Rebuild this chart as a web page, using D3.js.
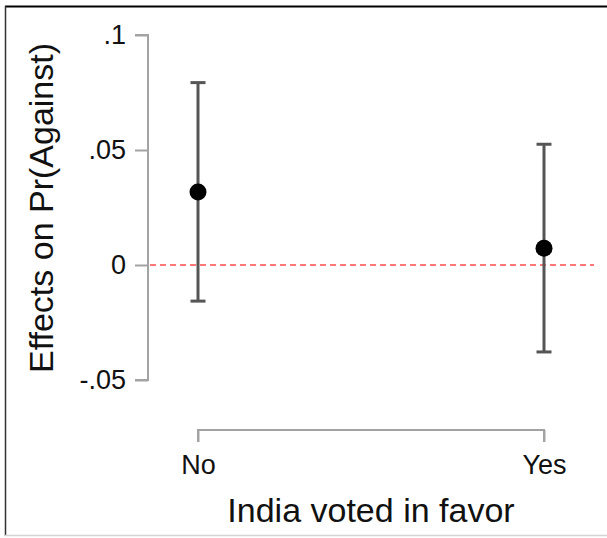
<!DOCTYPE html>
<html>
<head>
<meta charset="utf-8">
<script src="https://cdn.jsdelivr.net/npm/d3@7"></script>
<style>
  body { margin: 0; background: #fff; }
  text { font-family: "Liberation Sans", Arial, sans-serif; fill: #111; }
</style>
</head>
<body>
<svg width="607" height="538"></svg>
<script>
// data
var categories = ["No", "Yes"];
var estimates = [0.0317, 0.0073];
var lower = [-0.0157, -0.0378];
var upper = [0.0793, 0.0525];
var yTicks = [-0.05, 0, 0.05, 0.1];
var yTickLabels = ["-.05", "0", ".05", ".1"];

var svg = d3.select("svg"),
    width = +svg.attr("width"),
    height = +svg.attr("height");

// frame round the figure
svg.append("line").attr("x1", 5).attr("x2", width).attr("y1", 6.5).attr("y2", 6.5)
    .attr("stroke", "#000").attr("stroke-width", 2);
svg.append("line").attr("x1", 5.5).attr("x2", 5.5).attr("y1", 6).attr("y2", 536)
    .attr("stroke", "#333").attr("stroke-width", 1.5);
svg.append("line").attr("x1", 5).attr("x2", width).attr("y1", 535.5).attr("y2", 535.5)
    .attr("stroke", "#d4d4d4").attr("stroke-width", 1.5);

var y = d3.scaleLinear().domain([-0.05, 0.1]).range([380, 35]);
var x = d3.scalePoint().domain(categories).range([198, 544]);

var axisColor = "#a3a3a3";

// y axis
var yAxis = svg.append("g")
    .attr("transform", "translate(148,0)")
    .call(d3.axisLeft(y).tickValues(yTicks).tickSize(13).tickPadding(9)
      .tickFormat(function(d, i) { return yTickLabels[i]; }));
yAxis.select(".domain").attr("stroke", axisColor).attr("stroke-width", 2)
    .attr("d", "M-13," + y(0.1) + "H0V" + y(-0.05) + "H-13");
yAxis.selectAll(".tick line").attr("stroke", axisColor).attr("stroke-width", 2);
yAxis.selectAll(".tick text").style("font-size", "27px")
    .style("font-family", "Liberation Sans, Arial, sans-serif").attr("fill", "#111");

// x axis
var xAxis = svg.append("g")
    .attr("transform", "translate(0,430)")
    .call(d3.axisBottom(x).tickSize(12).tickPadding(13));
xAxis.select(".domain").attr("stroke", axisColor).attr("stroke-width", 2)
    .attr("d", "M" + x("No") + ",12V0H" + x("Yes") + "V12");
xAxis.selectAll(".tick line").attr("stroke", axisColor).attr("stroke-width", 2);
xAxis.selectAll(".tick text").style("font-size", "27px")
    .style("font-family", "Liberation Sans, Arial, sans-serif").attr("fill", "#111");

// zero reference line
svg.append("line")
    .attr("x1", 150).attr("x2", 594)
    .attr("y1", y(0)).attr("y2", y(0))
    .attr("stroke", "#ff7777").attr("stroke-width", 2.2)
    .attr("stroke-dasharray", "6,4");

// error bars
var bars = svg.selectAll(".bar").data(categories).enter().append("g").attr("class", "bar");
bars.append("line")
    .attr("x1", function(d) { return x(d); }).attr("x2", function(d) { return x(d); })
    .attr("y1", function(d, i) { return y(lower[i]); })
    .attr("y2", function(d, i) { return y(upper[i]); })
    .attr("stroke", "#555").attr("stroke-width", 3);
bars.append("line")
    .attr("x1", function(d) { return x(d) - 7.5; }).attr("x2", function(d) { return x(d) + 7.5; })
    .attr("y1", function(d, i) { return y(upper[i]); }).attr("y2", function(d, i) { return y(upper[i]); })
    .attr("stroke", "#555").attr("stroke-width", 3);
bars.append("line")
    .attr("x1", function(d) { return x(d) - 7.5; }).attr("x2", function(d) { return x(d) + 7.5; })
    .attr("y1", function(d, i) { return y(lower[i]); }).attr("y2", function(d, i) { return y(lower[i]); })
    .attr("stroke", "#555").attr("stroke-width", 3);
bars.append("circle")
    .attr("cx", function(d) { return x(d); })
    .attr("cy", function(d, i) { return y(estimates[i]); })
    .attr("r", 8.5)
    .attr("fill", "#000");

// axis titles
svg.append("text")
    .attr("x", 371).attr("y", 522)
    .attr("text-anchor", "middle")
    .style("font-size", "34px")
    .text("India voted in favor");

svg.append("text")
    .attr("transform", "translate(53,208) rotate(-90)")
    .attr("text-anchor", "middle")
    .style("font-size", "34px")
    .text("Effects on Pr(Against)");
</script>
</body>
</html>
